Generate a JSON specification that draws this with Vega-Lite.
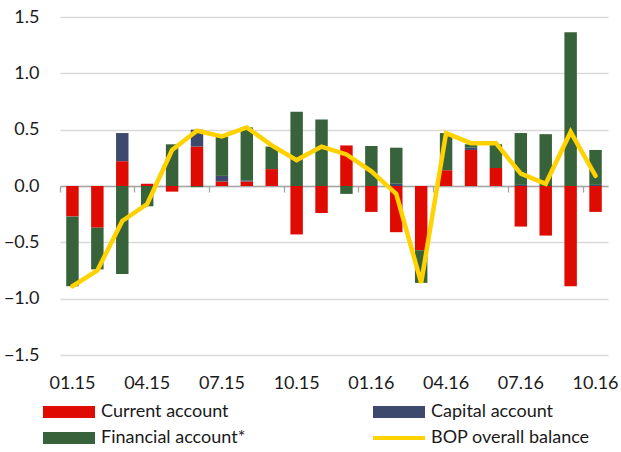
{
  "$schema": "https://vega.github.io/schema/vega-lite/v6.json",
  "autosize": "none",
  "width": 548,
  "height": 338,
  "padding": {"left": 60, "top": 17, "right": 13, "bottom": 97},
  "background": "white",
  "config": {
    "font": "Lato",
    "view": {"stroke": null},
    "axis": {"labelFont": "Lato", "labelFontSize": 18, "labelColor": "#1a1a1a"},
    "legend": {"labelFont": "Lato", "labelFontSize": 18, "labelColor": "#1a1a1a"}
  },
  "data": {
    "values": [
      {"month": "01.15", "series": "Current account", "value": -0.27},
      {"month": "01.15", "series": "Capital account", "value": 0.0},
      {"month": "01.15", "series": "Financial account*", "value": -0.62},
      {"month": "01.15", "series": "BOP overall balance", "value": -0.89},
      {"month": "02.15", "series": "Current account", "value": -0.37},
      {"month": "02.15", "series": "Capital account", "value": 0.0},
      {"month": "02.15", "series": "Financial account*", "value": -0.37},
      {"month": "02.15", "series": "BOP overall balance", "value": -0.75},
      {"month": "03.15", "series": "Current account", "value": 0.22},
      {"month": "03.15", "series": "Capital account", "value": 0.25},
      {"month": "03.15", "series": "Financial account*", "value": -0.78},
      {"month": "03.15", "series": "BOP overall balance", "value": -0.31},
      {"month": "04.15", "series": "Current account", "value": 0.02},
      {"month": "04.15", "series": "Capital account", "value": 0.0},
      {"month": "04.15", "series": "Financial account*", "value": -0.18},
      {"month": "04.15", "series": "BOP overall balance", "value": -0.16},
      {"month": "05.15", "series": "Current account", "value": -0.05},
      {"month": "05.15", "series": "Capital account", "value": 0.0},
      {"month": "05.15", "series": "Financial account*", "value": 0.37},
      {"month": "05.15", "series": "BOP overall balance", "value": 0.32},
      {"month": "06.15", "series": "Current account", "value": 0.35},
      {"month": "06.15", "series": "Capital account", "value": 0.15},
      {"month": "06.15", "series": "Financial account*", "value": -0.01},
      {"month": "06.15", "series": "BOP overall balance", "value": 0.49},
      {"month": "07.15", "series": "Current account", "value": 0.04},
      {"month": "07.15", "series": "Capital account", "value": 0.05},
      {"month": "07.15", "series": "Financial account*", "value": 0.35},
      {"month": "07.15", "series": "BOP overall balance", "value": 0.44},
      {"month": "08.15", "series": "Current account", "value": 0.04},
      {"month": "08.15", "series": "Capital account", "value": 0.01},
      {"month": "08.15", "series": "Financial account*", "value": 0.47},
      {"month": "08.15", "series": "BOP overall balance", "value": 0.52},
      {"month": "09.15", "series": "Current account", "value": 0.15},
      {"month": "09.15", "series": "Capital account", "value": 0.0},
      {"month": "09.15", "series": "Financial account*", "value": 0.2},
      {"month": "09.15", "series": "BOP overall balance", "value": 0.36},
      {"month": "10.15", "series": "Current account", "value": -0.43},
      {"month": "10.15", "series": "Capital account", "value": 0.0},
      {"month": "10.15", "series": "Financial account*", "value": 0.66},
      {"month": "10.15", "series": "BOP overall balance", "value": 0.23},
      {"month": "11.15", "series": "Current account", "value": -0.24},
      {"month": "11.15", "series": "Capital account", "value": 0.0},
      {"month": "11.15", "series": "Financial account*", "value": 0.59},
      {"month": "11.15", "series": "BOP overall balance", "value": 0.35},
      {"month": "12.15", "series": "Current account", "value": 0.36},
      {"month": "12.15", "series": "Capital account", "value": 0.0},
      {"month": "12.15", "series": "Financial account*", "value": -0.07},
      {"month": "12.15", "series": "BOP overall balance", "value": 0.28},
      {"month": "01.16", "series": "Current account", "value": -0.23},
      {"month": "01.16", "series": "Capital account", "value": 0.0},
      {"month": "01.16", "series": "Financial account*", "value": 0.355},
      {"month": "01.16", "series": "BOP overall balance", "value": 0.13},
      {"month": "02.16", "series": "Current account", "value": -0.41},
      {"month": "02.16", "series": "Capital account", "value": 0.02},
      {"month": "02.16", "series": "Financial account*", "value": 0.32},
      {"month": "02.16", "series": "BOP overall balance", "value": -0.07},
      {"month": "03.16", "series": "Current account", "value": -0.57},
      {"month": "03.16", "series": "Capital account", "value": 0.0},
      {"month": "03.16", "series": "Financial account*", "value": -0.29},
      {"month": "03.16", "series": "BOP overall balance", "value": -0.86},
      {"month": "04.16", "series": "Current account", "value": 0.14},
      {"month": "04.16", "series": "Capital account", "value": 0.0},
      {"month": "04.16", "series": "Financial account*", "value": 0.33},
      {"month": "04.16", "series": "BOP overall balance", "value": 0.47},
      {"month": "05.16", "series": "Current account", "value": 0.32},
      {"month": "05.16", "series": "Capital account", "value": 0.02},
      {"month": "05.16", "series": "Financial account*", "value": 0.03},
      {"month": "05.16", "series": "BOP overall balance", "value": 0.38},
      {"month": "06.16", "series": "Current account", "value": 0.16},
      {"month": "06.16", "series": "Capital account", "value": 0.0},
      {"month": "06.16", "series": "Financial account*", "value": 0.21},
      {"month": "06.16", "series": "BOP overall balance", "value": 0.38},
      {"month": "07.16", "series": "Current account", "value": -0.36},
      {"month": "07.16", "series": "Capital account", "value": 0.01},
      {"month": "07.16", "series": "Financial account*", "value": 0.46},
      {"month": "07.16", "series": "BOP overall balance", "value": 0.11},
      {"month": "08.16", "series": "Current account", "value": -0.44},
      {"month": "08.16", "series": "Capital account", "value": 0.0},
      {"month": "08.16", "series": "Financial account*", "value": 0.46},
      {"month": "08.16", "series": "BOP overall balance", "value": 0.02},
      {"month": "09.16", "series": "Current account", "value": -0.89},
      {"month": "09.16", "series": "Capital account", "value": 0.0},
      {"month": "09.16", "series": "Financial account*", "value": 1.365},
      {"month": "09.16", "series": "BOP overall balance", "value": 0.48},
      {"month": "10.16", "series": "Current account", "value": -0.23},
      {"month": "10.16", "series": "Capital account", "value": 0.01},
      {"month": "10.16", "series": "Financial account*", "value": 0.31},
      {"month": "10.16", "series": "BOP overall balance", "value": 0.09}
    ]
  },
  "resolve": {"scale": {"x": "shared", "y": "shared"}, "axis": {"x": "independent", "y": "shared"}},
  "layer": [
    {
      "transform": [
        {"filter": "datum.series != 'BOP overall balance'"},
        {"calculate": "indexof(['Current account','Capital account','Financial account*'], datum.series)", "as": "stackOrder"}
      ],
      "mark": {"type": "bar", "width": {"band": 0.5}},
      "encoding": {
        "x": {
          "field": "month", "type": "ordinal", "sort": null,
          "scale": {"paddingInner": 0, "paddingOuter": 0},
          "axis": {
            "orient": "bottom", "title": null, "labelAngle": 0, "ticks": false, "domain": false, "grid": false,
            "labelPadding": 19,
            "values": ["01.15", "04.15", "07.15", "10.15", "01.16", "04.16", "07.16", "10.16"]
          }
        },
        "y": {
          "field": "value", "type": "quantitative", "stack": "zero",
          "scale": {"domain": [-1.5, 1.5], "nice": false, "zero": false},
          "axis": {
            "title": null, "values": [-1.5, -1, -0.5, 0, 0.5, 1, 1.5], "format": ".1f",
            "ticks": false, "domain": false, "gridColor": "#D9D9D9", "gridWidth": 1.3, "labelPadding": 21
          }
        },
        "color": {
          "field": "series", "type": "nominal",
          "scale": {
            "domain": ["Current account", "Financial account*", "Capital account", "BOP overall balance"],
            "range": ["#E00B00", "#38623A", "#3D4A6D", "#FFD200"]
          },
          "legend": {
            "title": null, "orient": "none", "legendX": -17, "legendY": 382, "columns": 2,
            "columnPadding": 127, "rowPadding": 4, "labelOffset": 32, "symbolSize": 676,
            "symbolType": "M-1,-0.46H3V0.46H-1Z", "symbolStrokeWidth": 0,
            "encode": {
              "symbols": {
                "update": {
                  "shape": {"signal": "datum.label == 'BOP overall balance' ? 'M-1,-0.15H3V0.15H-1Z' : 'M-1,-0.46H3V0.46H-1Z'"},
                  "fill": {"signal": "scale('color', datum.value)"},
                  "strokeWidth": {"value": 0},
                  "opacity": {"value": 1}
                }
              }
            }
          }
        },
        "order": {"field": "stackOrder", "type": "quantitative", "sort": "ascending"}
      }
    },
    {
      "transform": [{"filter": "datum.series == 'BOP overall balance'"}],
      "mark": {"type": "line", "color": "#FFD200", "strokeWidth": 4.5, "strokeCap": "round"},
      "encoding": {
        "x": {
          "field": "month", "type": "ordinal", "sort": null,
          "axis": {
            "orient": "bottom", "title": null, "labels": false, "ticks": true, "tickSize": 6,
            "tickColor": "#A6A6A6", "tickWidth": 1.3, "domain": true, "domainColor": "#A6A6A6", "domainWidth": 1.5,
            "grid": false, "offset": -169, "bandPosition": 0,
            "values": ["01.15", "04.15", "07.15", "10.15", "01.16", "04.16", "07.16", "10.16"]
          }
        },
        "y": {"field": "value", "type": "quantitative"}
      }
    }
  ]
}
